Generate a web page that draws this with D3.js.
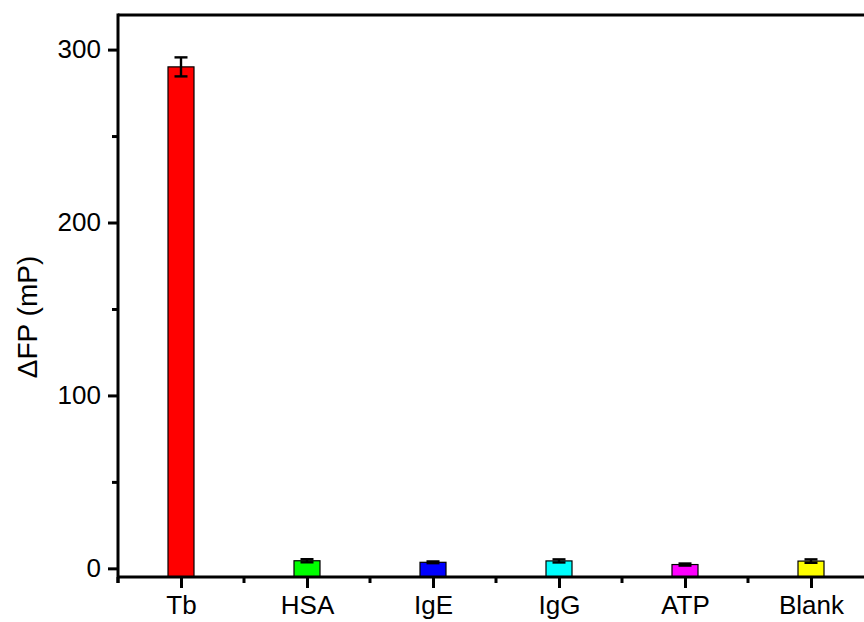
<!DOCTYPE html>
<html>
<head>
<meta charset="utf-8">
<script src="https://cdn.jsdelivr.net/npm/d3@7/dist/d3.min.js"></script>
<style>
  html, body { margin: 0; padding: 0; background: #fff; }
  svg { display: block; font-family: "Liberation Sans", Arial, sans-serif; }
</style>
</head>
<body>
<svg id="chart" width="864" height="622"></svg>
<script>
// Fluorescence polarization change per target
const categories = ["Tb", "HSA", "IgE", "IgG", "ATP", "Blank"];
const values     = [290, 4.4, 3.5, 4.3, 2.2, 4.2];
const errors     = [5.5, 0.9, 0.5, 0.9, 0.6, 1.0];
const colors     = ["#ff0000", "#00ff00", "#0000ff", "#00ffff", "#ff00ff", "#ffff00"];
const yTicks     = [0, 100, 200, 300];
const yMinorTicks = [50, 150, 250];

const svg = d3.select("#chart");
const plotLeft = 118, plotRight = 874, plotTop = 15, plotBottom = 577;

const x = d3.scalePoint().domain(categories).range([plotLeft, plotRight]).padding(0.5);
const y = d3.scaleLinear().domain([-5, 320]).range([plotBottom, plotTop]);
const barW = 26;
const capW = 13;

// Bars start at the lower edge of the axis range
svg.append("g").selectAll("rect")
  .data(categories)
  .join("rect")
  .attr("x", (d) => x(d) - barW / 2)
  .attr("y", (d, i) => y(values[i]))
  .attr("width", barW)
  .attr("height", (d, i) => y(-5) - y(values[i]))
  .attr("fill", (d, i) => colors[i])
  .attr("stroke", "#000")
  .attr("stroke-width", 1.2);

// Error bars
const eb = svg.append("g").attr("stroke", "#000").attr("stroke-width", 2.4);
categories.forEach((c, i) => {
  const cx = x(c);
  const y1 = y(values[i] + errors[i]), y0 = y(values[i] - errors[i]);
  eb.append("line").attr("x1", cx).attr("x2", cx).attr("y1", y1).attr("y2", y0);
  eb.append("line").attr("x1", cx - capW / 2).attr("x2", cx + capW / 2).attr("y1", y1).attr("y2", y1);
  eb.append("line").attr("x1", cx - capW / 2).attr("x2", cx + capW / 2).attr("y1", y0).attr("y2", y0);
});

// Frame
const frame = svg.append("g").attr("stroke", "#000").attr("stroke-width", 3).attr("fill", "none");
frame.append("line").attr("x1", plotLeft).attr("x2", plotRight).attr("y1", plotTop).attr("y2", plotTop);
frame.append("line").attr("x1", plotRight).attr("x2", plotRight).attr("y1", plotTop).attr("y2", plotBottom);

// Y axis
const yAxis = d3.axisLeft(y).tickValues(yTicks).tickSize(10).tickPadding(7).tickSizeOuter(0);
const gy = svg.append("g").attr("transform", `translate(${plotLeft},0)`).call(yAxis);
gy.select(".domain").remove();
gy.selectAll(".tick line").attr("stroke-width", 3);
gy.selectAll(".tick text").attr("font-size", 26).attr("font-family", "Liberation Sans, Arial, sans-serif").attr("fill", "#000");
const yMinor = d3.axisLeft(y).tickValues(yMinorTicks).tickSize(6).tickFormat("");
const gym = svg.append("g").attr("transform", `translate(${plotLeft},0)`).call(yMinor);
gym.select(".domain").remove();
gym.selectAll(".tick line").attr("stroke-width", 3);
svg.append("line").attr("x1", plotLeft).attr("x2", plotLeft).attr("y1", plotTop - 1.5).attr("y2", plotBottom + 6)
  .attr("stroke", "#000").attr("stroke-width", 3);

// X axis
const xAxis = d3.axisBottom(x).tickSize(11).tickPadding(8).tickSizeOuter(0);
const gx = svg.append("g").attr("transform", `translate(0,${plotBottom})`).call(xAxis);
gx.select(".domain").remove();
gx.selectAll(".tick line").attr("stroke-width", 3);
gx.selectAll(".tick text").attr("font-size", 26).attr("font-family", "Liberation Sans, Arial, sans-serif").attr("fill", "#000");
const step = x.step();
const xMinorPos = d3.range(categories.length + 1).map((i) => plotLeft + i * step);
svg.append("g").selectAll("line")
  .data(xMinorPos)
  .join("line")
  .attr("x1", (d) => d).attr("x2", (d) => d)
  .attr("y1", plotBottom).attr("y2", plotBottom + 6)
  .attr("stroke", "#000").attr("stroke-width", 3);
svg.append("line").attr("x1", plotLeft).attr("x2", plotRight).attr("y1", plotBottom).attr("y2", plotBottom)
  .attr("stroke", "#000").attr("stroke-width", 3);

// Y axis title
svg.append("text")
  .attr("transform", `translate(37,317) rotate(-90)`)
  .attr("text-anchor", "middle")
  .attr("font-size", 28)
  .attr("fill", "#000")
  .text("\u0394FP (mP)");
</script>
</body>
</html>
